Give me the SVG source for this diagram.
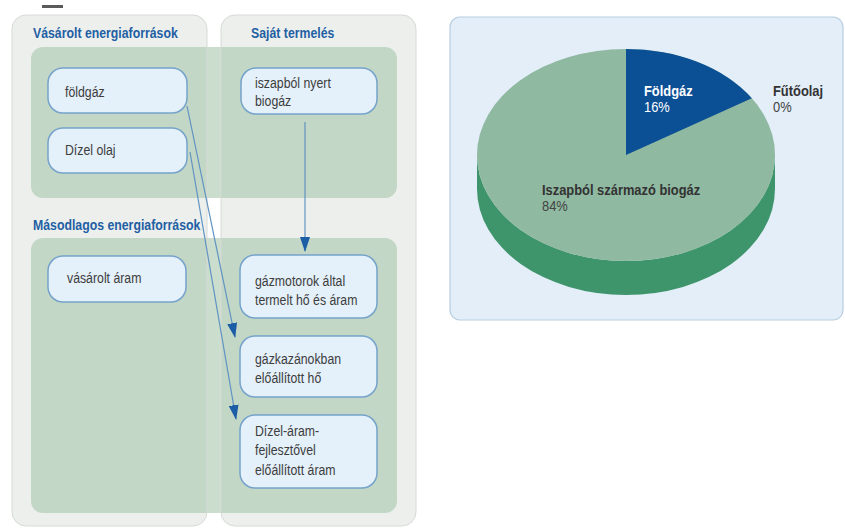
<svg xmlns="http://www.w3.org/2000/svg" width="845" height="528" viewBox="0 0 845 528">
<defs>
<style>
.panel{fill:#edefed;}
.pedge{fill:none;stroke:#d6dad6;stroke-width:1;}
.band{fill:rgb(160,195,165);fill-opacity:0.55;}
.node rect{fill:#e4f0fa;stroke:#76a3ca;stroke-width:1.5;}
.node text{font-family:"Liberation Sans",Arial,sans-serif;font-size:15px;fill:#3d3d3d;}
.hdr{font-family:"Liberation Sans",Arial,sans-serif;font-size:15px;font-weight:bold;fill:#1f5fa3;}
.conn{stroke:#5f93c2;stroke-width:1.2;fill:none;marker-end:url(#ah);}
.pl{font-family:"Liberation Sans",Arial,sans-serif;font-size:15px;}
</style>
<marker id="ah" markerUnits="userSpaceOnUse" markerWidth="15" markerHeight="10" refX="14" refY="5" orient="auto">
<path d="M0,0 L15,5 L0,10 Z" fill="#1b5ea6"/>
</marker>
</defs>
<rect x="0" y="0" width="845" height="528" fill="#ffffff"/>
<rect x="42" y="5" width="21" height="3" fill="#5a5a5a"/>
<g id="columns">
<rect class="panel" x="12" y="15" width="195" height="511" rx="14"/>
<rect class="panel" x="221" y="15" width="195" height="511" rx="14"/>
<rect class="band" x="31" y="47" width="366" height="151" rx="12"/>
<rect class="band" x="31" y="238" width="366" height="275" rx="12"/>
<rect class="pedge" x="12" y="15" width="195" height="511" rx="14"/>
<rect class="pedge" x="221" y="15" width="195" height="511" rx="14"/>
<text class="hdr" transform="translate(33,38) scale(0.82,1)">Vásárolt energiaforrások</text>
<text class="hdr" transform="translate(251,38) scale(0.82,1)">Saját termelés</text>
<text class="hdr" transform="translate(33,230) scale(0.82,1)">Másodlagos energiaforrások</text>
</g>
<g id="n-foldgaz" class="node">
<rect x="48" y="68" width="139" height="45" rx="15"/>
<text transform="translate(65,97) scale(0.82,1)">földgáz</text>
</g>
<g id="n-dizel" class="node">
<rect x="48" y="128" width="139" height="45" rx="15"/>
<text transform="translate(65,155) scale(0.82,1)">Dízel olaj</text>
</g>
<g id="n-biogaz" class="node">
<rect x="241" y="68" width="136" height="46" rx="15"/>
<text transform="translate(255,88) scale(0.82,1)"><tspan x="0" y="0">iszapból nyert</tspan><tspan x="0" y="18">biogáz</tspan></text>
</g>
<g id="n-aram" class="node">
<rect x="48" y="256" width="138" height="46" rx="15"/>
<text transform="translate(67,283) scale(0.82,1)">vásárolt áram</text>
</g>
<g id="n-gazmotor" class="node">
<rect x="240" y="255" width="137" height="63" rx="15"/>
<text transform="translate(255,286) scale(0.82,1)"><tspan x="0" y="0">gázmotorok által</tspan><tspan x="0" y="19">termelt hő és áram</tspan></text>
</g>
<g id="n-gazkazan" class="node">
<rect x="240" y="336" width="137" height="61" rx="15"/>
<text transform="translate(255,364) scale(0.82,1)"><tspan x="0" y="0">gázkazánokban</tspan><tspan x="0" y="19">előállított hő</tspan></text>
</g>
<g id="n-dizelaram" class="node">
<rect x="240" y="415" width="137" height="73" rx="15"/>
<text transform="translate(255,436) scale(0.82,1)"><tspan x="0" y="0">Dízel-áram-</tspan><tspan x="0" y="19">fejlesztővel</tspan><tspan x="0" y="39">előállított áram</tspan></text>
</g>
<g id="connectors">
<line class="conn" x1="305" y1="122" x2="305" y2="251"/>
<line class="conn" x1="187" y1="106" x2="235" y2="337"/>
<line class="conn" x1="190" y1="152" x2="236" y2="419"/>
</g>
<g id="pie-chart">
<rect x="450" y="17" width="393" height="303" rx="10" fill="#e3eef9" stroke="#b8cde0" stroke-width="1.2"/>
<path d="M477,155 A149,106 0 0 0 775,155 L775,189 A149,106 0 0 1 477,189 Z" fill="#3f956b"/>
<ellipse cx="626" cy="155" rx="149" ry="106" fill="#8fb9a0"/>
<path d="M626,155 L626,49 A149,106 0 0 1 751.8,98.2 Z" fill="#0b4f95"/>
<text class="pl" transform="translate(644,96) scale(0.86,1)" font-weight="bold" fill="#ffffff">Földgáz</text>
<text class="pl" transform="translate(644,112) scale(0.86,1)" fill="#ffffff">16%</text>
<text class="pl" transform="translate(773,96) scale(0.86,1)" font-weight="bold" fill="#333333">Fűtőolaj</text>
<text class="pl" transform="translate(773,112) scale(0.86,1)" fill="#444444">0%</text>
<text class="pl" transform="translate(542,195) scale(0.86,1)" font-weight="bold" fill="#333333">Iszapból származó biogáz</text>
<text class="pl" transform="translate(542,211) scale(0.86,1)" fill="#444444">84%</text>
</g>
</svg>
